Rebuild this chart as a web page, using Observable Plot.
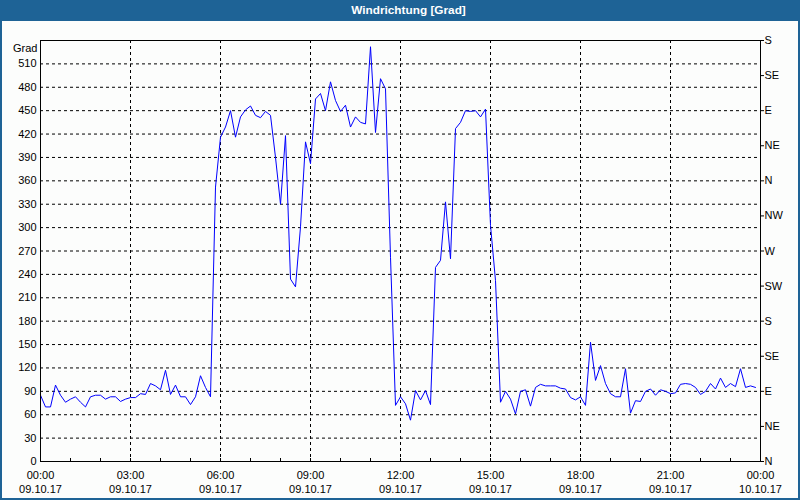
<!DOCTYPE html>
<html>
<head>
<meta charset="utf-8">
<script src="https://cdn.jsdelivr.net/npm/d3@7"></script>
<script src="https://cdn.jsdelivr.net/npm/@observablehq/plot@0.6"></script>
<style>
  html, body { margin: 0; padding: 0; background: #fcfdfc; }
  #frame {
    position: relative; width: 800px; height: 500px; box-sizing: border-box;
    border-left: 2px solid #1e6396; border-right: 2px solid #1e6396; border-bottom: 2px solid #1e6396;
    background: #fcfdfc; overflow: hidden;
  }
  #title {
    height: 21px; margin: 0 -2px; background: #1e6396; color: #fff;
    font: bold 11.8px "Liberation Sans", Arial, sans-serif; line-height: 20px;
    text-align: center; padding-left: 17px; box-sizing: border-box;
  }
  #chart svg { display: block; }
</style>
</head>
<body>
<div id="frame">
  <div id="title">Windrichtung [Grad]</div>
  <div id="chart"></div>
</div>
<script>
// Wind direction readings (degrees), every 10 minutes from 09.10.17 00:00
const startTime = Date.UTC(2017, 9, 9, 0, 0);
const intervalMinutes = 10;
const values = [
  85, 70, 70, 98, 85, 76, 80, 83, 76, 70,
  83, 85, 85, 80, 83, 83, 77, 80, 82, 82,
  87, 86, 100, 97, 92, 117, 86, 98, 83, 83,
  73, 83, 110, 95, 83, 352, 416, 429, 450, 416,
  442, 451, 456, 444, 441, 449, 444, 390, 330, 418,
  234, 224, 301, 410, 382, 465, 472, 450, 487, 463,
  449, 457, 429, 442, 435, 433, 532, 422, 491, 478,
  262, 72, 83, 74, 53, 91, 79, 91, 73, 249,
  258, 333, 260, 427, 435, 450, 449, 450, 442, 452,
  303, 232, 76, 90, 80, 61, 90, 92, 71, 95,
  99, 97, 97, 97, 94, 93, 82, 79, 83, 72,
  153, 104, 123, 100, 87, 83, 83, 119, 62, 78,
  77, 90, 93, 85, 92, 90, 87, 88, 99, 100,
  99, 95, 86, 90, 100, 93, 107, 95, 100, 96,
  119, 95, 97, 95
];
// Left axis ticks (degrees)
const leftTicks = d3.range(0, 511, 30);
// Right axis: compass directions
const dirValues = [0, 45, 90, 135, 180, 225, 270, 315, 360, 405, 450, 495, 540];
const dirLabels = ["N", "NE", "E", "SE", "S", "SW", "W", "NW", "N", "NE", "E", "SE", "S"];
// X ticks: labelled every 3 hours, minor every hour
const labelHours = [0, 3, 6, 9, 12, 15, 18, 21, 24];
const gridHours = [3, 6, 9, 12, 15, 18, 21];
const minorHours = d3.range(0, 25, 1);

const H = 3600 * 1000;
const data = values.map((v, i) => ({t: new Date(startTime + i * intervalMinutes * 60000), v}));
const toDate = h => new Date(startTime + h * H);
const fmtT = d3.utcFormat("%H:%M"), fmtD = d3.utcFormat("%d.%m.%y");

const dash = "3,3";
const plot = Plot.plot({
  width: 796,
  height: 477,
  marginLeft: 38,
  marginRight: 38,
  marginTop: 19,
  marginBottom: 37,
  style: {fontFamily: "'Liberation Sans', Arial, sans-serif", fontSize: "11px", background: "transparent", color: "#000"},
  x: {type: "utc", domain: [toDate(0), toDate(24)], axis: null},
  y: {domain: [0, 540], axis: null},
  marks: [
    Plot.ruleY(leftTicks.filter(d => d > 0), {stroke: "#000", strokeDasharray: dash, strokeOpacity: 1}),
    Plot.ruleX(gridHours.map(toDate), {stroke: "#000", strokeDasharray: dash, strokeOpacity: 1}),
    Plot.line(data, {x: "t", y: "v", stroke: "#0000ff", strokeWidth: 1}),
    Plot.frame({stroke: "#000", strokeOpacity: 1}),
    Plot.axisY({anchor: "left", ticks: leftTicks, tickSize: 0, tickPadding: 4, tickFormat: d => String(d), label: null}),
    Plot.axisY({anchor: "right", ticks: dirValues, tickSize: 3, tickPadding: 1, strokeOpacity: 1,
      tickFormat: d => dirLabels[dirValues.indexOf(d)], label: null}),
    Plot.axisX({anchor: "bottom", ticks: minorHours.map(toDate), tickSize: 3, dy: -3, strokeOpacity: 1, tickFormat: () => "", label: null}),
    Plot.axisX({anchor: "bottom", ticks: labelHours.map(toDate), tickSize: 0, tickPadding: 8, lineHeight: 1.27,
      tickFormat: d => fmtT(d) + "\n" + fmtD(d), label: null}),
    Plot.text(["Grad"], {frameAnchor: "top-left", dx: -3, dy: 4, textAnchor: "end", fill: "#000"})
  ]
});
document.getElementById("chart").appendChild(plot);
</script>
</body>
</html>
